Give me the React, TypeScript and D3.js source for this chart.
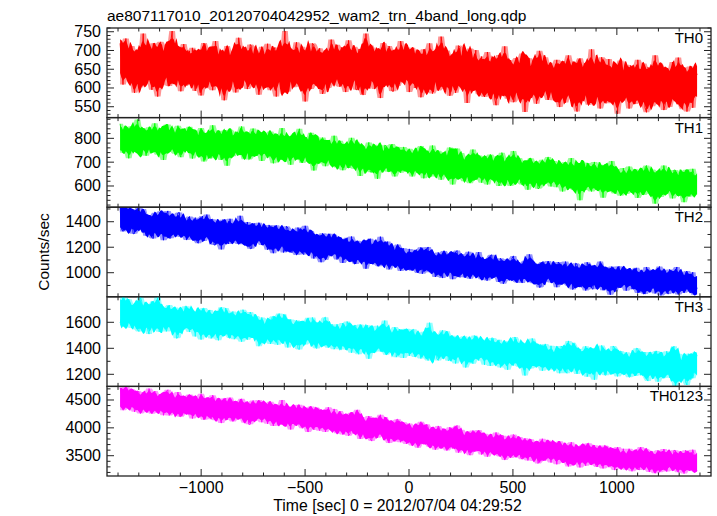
import React from "react";
import * as d3 from "d3";

const TITLE = "ae807117010_20120704042952_wam2_trn_4band_long.qdp";
const X_LABEL = "Time [sec] 0 = 2012/07/04 04:29:52";
const Y_LABEL = "Counts/sec";
const X_DOMAIN: [number, number] = [-1453, 1453];
const X_MAJOR = [-1000, -500, 0, 500, 1000];
const X_TICK_LABELS = ["\u22121000", "\u2212500", "0", "500", "1000"];
const X_MINOR_STEP = 100;
const T_START = -1390;
const T_END = 1386;

const bandNames = ["TH0", "TH1", "TH2", "TH3", "TH0123"];
const bandColors = ["#ff0000", "#00ff00", "#0000ff", "#00ffff", "#ff00ff"];
const yDomains: [number, number][] = [[521, 760], [511, 887], [811, 1514], [1107, 1796], [3136, 4744]];
const yMajorTicks = [[550, 600, 650, 700, 750], [600, 700, 800], [1000, 1200, 1400], [1200, 1400, 1600], [3500, 4000, 4500]];
const yMinorStep = [10, 20, 100, 100, 100];

const th0 = [
  719,671,609,693,732,637,627,707,712,615,587,665,697,601,602,685,745,651,612,705,707,629,595,719,692,643,577,677,723,607,617,691,715,649,605,721,752,621,619,663,704,699,591,635,717,679,607,609,699,637,
  707,618,592,663,692,697,580,644,720,599,617,677,702,708,594,635,725,655,607,613,690,683,567,593,712,669,602,691,698,627,588,649,734,705,612,607,704,666,597,641,716,711,604,621,688,646,582,688,710,610,
  608,680,718,607,594,646,700,708,577,663,704,618,612,694,752,590,590,638,697,674,602,702,722,627,616,604,710,660,564,683,694,635,597,719,715,613,605,669,706,649,584,596,691,697,600,658,729,630,607,688,
  715,644,603,708,700,619,589,633,727,689,617,669,710,596,595,703,703,638,581,613,745,680,609,714,707,649,597,605,695,694,573,658,720,624,611,675,712,700,592,591,701,663,605,630,725,705,615,647,708,683,
  589,659,707,681,600,625,695,695,575,603,703,653,607,589,719,673,585,639,689,693,593,617,737,707,597,631,700,665,579,595,685,679,587,637,713,709,603,609,695,651,560,687,705,623,598,667,701,597,583,625,
  684,592,576,637,696,671,582,618,672,573,554,651,688,682,586,609,711,629,571,587,674,657,562,567,680,643,588,665,692,601,536,623,676,679,574,581,670,640,558,615,699,685,580,595,682,620,568,662,666,584,
  567,643,675,570,549,609,660,671,561,626,687,581,575,657,670,553,537,601,679,637,569,665,665,590,555,567,703,623,571,646,667,598,545,682,661,576,559,632,677,612,565,559,655,660,531,621,673,593,570,651,
  662,596,545,660,654,571,557,585,675,641,563,621,665,548,535,655,649,590,551,565,687,632,559,666,659,601,541,557,652,646,549,610,669,576,567,627,681,652,553,543,653,615,537,582,657,657,547,599,647,635,
];

const th1 = [
  861,819,739,746,836,785,716,847,851,802,751,757,879,833,733,729,839,777,727,813,846,841,747,766,863,743,731,799,831,822,709,774,857,858,743,752,843,808,735,788,853,735,721,836,837,797,749,769,849,827,
  715,764,825,828,729,739,843,753,703,809,817,789,720,716,855,823,727,758,832,733,709,800,819,834,685,769,836,725,725,814,828,778,735,744,850,795,712,820,822,711,717,783,841,750,730,825,827,767,705,803,
  821,779,717,801,829,745,695,815,807,723,710,773,843,709,721,793,805,749,689,803,815,727,717,817,840,741,697,775,802,705,703,789,823,747,665,809,790,709,695,751,803,787,683,723,785,767,699,697,811,725,
  678,696,790,741,666,775,774,722,682,677,802,755,672,786,780,713,642,721,764,679,676,749,783,659,658,735,773,757,630,693,758,715,664,771,768,661,660,720,776,695,640,765,754,675,656,700,764,742,662,664,
  756,730,640,657,750,696,657,758,768,713,632,668,744,744,646,640,770,676,640,712,748,740,626,665,736,642,650,698,762,721,606,673,742,757,630,639,738,695,620,675,722,622,612,723,753,684,626,656,728,714,
  614,661,718,725,606,636,732,650,628,706,724,686,600,613,740,720,612,645,704,620,600,687,747,721,614,656,717,612,606,701,702,665,584,631,716,672,606,697,702,588,592,660,710,627,610,702,722,644,598,680,
  705,659,595,681,689,625,577,695,701,603,599,653,717,589,583,673,683,629,540,683,699,607,583,697,675,621,577,655,701,585,591,669,687,627,551,689,683,589,577,631,705,667,569,603,671,647,559,577,675,605,
  566,586,682,631,572,665,670,612,550,567,664,645,562,676,686,603,568,617,669,575,526,645,662,555,554,631,686,653,570,589,666,611,548,667,666,563,558,622,653,597,532,667,668,577,556,602,672,644,568,566,
];

const th2 = [
  1512,1342,1324,1428,1550,1494,1335,1390,1497,1305,1308,1455,1485,1515,1347,1374,1500,1389,1290,1308,1451,1443,1275,1269,1470,1416,1308,1458,1482,1335,1255,1377,1455,1485,1271,1271,1451,1385,1290,1337,1469,1472,1280,1298,1418,1347,1256,1429,1441,1277,
  1261,1390,1432,1249,1231,1325,1408,1444,1249,1357,1456,1271,1270,1417,1420,1217,1219,1291,1396,1362,1183,1416,1408,1270,1249,1226,1423,1335,1234,1378,1386,1285,1225,1447,1386,1224,1227,1332,1398,1293,1188,1191,1374,1386,1239,1310,1392,1255,1218,1370,
  1357,1252,1180,1375,1345,1202,1153,1229,1372,1338,1205,1300,1351,1159,1186,1365,1351,1207,1165,1159,1330,1288,1138,1354,1306,1229,1157,1142,1368,1315,1168,1246,1327,1180,1111,1245,1282,1294,1138,1082,1309,1224,1099,1159,1288,1305,1129,1190,1297,1261,
  1104,1203,1263,1247,1077,1138,1242,1274,1093,1095,1284,1193,1086,1068,1251,1230,1085,1137,1244,1240,1031,1094,1226,1267,1079,1121,1238,1186,1061,1050,1283,1213,1073,1131,1188,1244,1026,1048,1202,1130,1053,1200,1221,1075,1014,1163,1191,1027,1035,1081,
  1187,1029,1016,1115,1163,1181,998,1077,1199,992,1028,1142,1177,1202,1004,1061,1144,1078,967,997,1159,1132,1003,958,1171,1105,991,1147,1135,1024,949,1066,1162,1174,976,964,1147,1078,964,1030,1119,1165,952,991,1129,1040,979,1122,1162,970,
  948,1086,1107,945,939,1021,1134,1140,964,1053,1113,967,927,1113,1101,913,937,988,1105,1059,943,1113,1132,967,928,923,1081,1032,919,1075,1093,982,955,1144,1097,923,917,1031,1070,992,884,890,1085,1085,929,1009,1091,954,923,1069,
  1060,961,886,1084,1069,911,910,938,1087,1047,898,1009,1048,868,889,1074,1067,935,893,887,1049,1016,860,1082,1040,957,881,870,1061,1043,902,974,1088,908,862,990,1021,1039,874,827,1048,969,850,904,1027,1050,883,935,1036,1006,
  859,967,1030,1011,871,902,1018,1038,841,859,1012,957,853,832,1045,994,855,919,1014,1022,837,876,996,1049,822,903,1017,968,858,832,1026,995,846,913,995,1045,830,849,989,931,842,1001,1013,876,854,964,1004,828,845,882,
];

const th3 = [
  1595,1631,1835,1769,1568,1577,1778,1607,1556,1727,1745,1685,1542,1529,1798,1757,1557,1599,1740,1545,1509,1689,1731,1761,1563,1623,1800,1527,1542,1719,1719,1641,1530,1569,1732,1657,1532,1711,1714,1477,1483,1633,1702,1561,1547,1723,1723,1597,1525,1675,
  1689,1626,1491,1674,1677,1554,1467,1704,1709,1506,1521,1614,1695,1476,1506,1656,1665,1566,1461,1680,1716,1518,1495,1710,1650,1548,1479,1620,1683,1470,1491,1650,1674,1560,1451,1697,1643,1481,1466,1571,1679,1649,1484,1511,1649,1607,1416,1457,1637,1517,
  1445,1469,1628,1565,1433,1637,1646,1523,1463,1427,1667,1595,1451,1661,1622,1505,1406,1529,1622,1439,1439,1589,1616,1397,1391,1559,1598,1607,1430,1469,1634,1517,1442,1637,1594,1408,1399,1534,1588,1480,1417,1630,1639,1438,1405,1492,1582,1582,1393,1414,
  1585,1546,1399,1390,1594,1474,1390,1606,1569,1510,1366,1414,1576,1576,1408,1354,1583,1439,1370,1517,1556,1577,1319,1415,1565,1367,1388,1487,1574,1535,1376,1433,1553,1613,1350,1368,1545,1488,1368,1446,1563,1332,1362,1548,1530,1464,1326,1404,1551,1530,
  1342,1408,1540,1546,1333,1354,1513,1384,1321,1504,1528,1462,1348,1306,1597,1534,1319,1376,1499,1322,1307,1466,1511,1538,1334,1400,1532,1304,1316,1496,1496,1418,1283,1346,1480,1432,1303,1486,1492,1252,1297,1408,1471,1336,1282,1498,1483,1372,1306,1450,
  1468,1402,1273,1450,1459,1330,1264,1480,1477,1282,1291,1390,1465,1252,1282,1432,1439,1343,1235,1457,1454,1295,1268,1487,1466,1325,1259,1397,1433,1247,1190,1427,1445,1337,1245,1476,1440,1260,1254,1350,1425,1428,1227,1290,1434,1386,1248,1236,1419,1296,
  1235,1250,1415,1346,1208,1418,1406,1304,1226,1208,1457,1376,1232,1442,1421,1286,1203,1314,1395,1224,1215,1374,1416,1182,1224,1344,1398,1392,1158,1254,1404,1302,1227,1422,1397,1196,1193,1322,1376,1268,1202,1418,1403,1226,1184,1280,1379,1370,1196,1202,
  1370,1340,1178,1184,1364,1268,1187,1400,1397,1304,1193,1208,1358,1370,1169,1148,1371,1242,1182,1320,1359,1380,1143,1218,1365,1170,1188,1290,1377,1338,1173,1236,1353,1416,1097,1178,1358,1298,1175,1256,1352,1142,1118,1358,1346,1274,1169,1214,1370,1340,
];

const th0123 = [
  4722,4595,4317,4341,4767,4477,4354,4692,4692,4536,4287,4380,4662,4644,4257,4282,4638,4400,4292,4528,4705,4626,4255,4361,4660,4283,4277,4480,4600,4558,4225,4391,4653,4684,4223,4266,4621,4462,4253,4392,4643,4208,4200,4559,4576,4423,4238,4325,4598,4531,
  4167,4323,4572,4548,4197,4234,4610,4284,4144,4479,4542,4412,4212,4156,4587,4529,4137,4266,4528,4178,4085,4414,4490,4531,4145,4305,4543,4149,4115,4462,4483,4336,4152,4217,4521,4357,4093,4444,4468,4063,4063,4318,4491,4199,4130,4464,4498,4258,4100,4386,
  4448,4295,4072,4373,4470,4176,4035,4421,4403,4098,4057,4275,4500,4050,4080,4343,4390,4175,3970,4362,4375,4097,4037,4410,4413,4145,3992,4264,4360,4019,3925,4312,4383,4165,3965,4370,4355,4017,3950,4165,4318,4292,3927,4067,4370,4223,3980,3978,4340,4076,
  3903,3966,4301,4122,3880,4239,4248,4053,3858,3897,4271,4172,3925,4278,4323,4024,3800,4021,4190,3873,3837,4118,4213,3804,3762,4069,4168,4147,3822,3921,4235,3999,3845,4196,4132,3781,3727,3987,4110,3898,3757,4143,4155,3829,3742,3917,4102,4065,3712,3790,
  4080,3968,3682,3714,4043,3850,3645,4065,4110,3909,3705,3753,4065,4017,3660,3655,3990,3760,3607,3888,4035,3986,3637,3721,3968,3643,3592,3840,4013,3918,3630,3751,3998,4044,3555,3613,3968,3809,3592,3739,3930,3555,3510,3906,3953,3770,3577,3672,3960,3878,
  3520,3654,3896,3879,3483,3565,3873,3615,3535,3810,3918,3743,3498,3487,3858,3860,3422,3581,3828,3493,3460,3729,3880,3846,3475,3620,3835,3464,3437,3777,3813,3651,3415,3532,3797,3656,3407,3743,3745,3362,3392,3617,3805,3498,3414,3763,3775,3557,3377,3685,
  3728,3590,3345,3668,3758,3471,3375,3716,3720,3393,3307,3570,3743,3345,3367,3638,3665,3480,3290,3667,3695,3402,3320,3715,3725,3450,3342,3569,3688,3324,3297,3617,3673,3470,3272,3685,3670,3332,3295,3480,3640,3607,3242,3382,3655,3538,3280,3293,3625,3391,
  3250,3313,3625,3469,3220,3586,3603,3400,3265,3244,3655,3519,3242,3625,3610,3371,3207,3421,3575,3273,3185,3518,3598,3204,3237,3469,3620,3547,3215,3321,3568,3399,3230,3596,3593,3234,3202,3440,3563,3351,3180,3596,3570,3282,3225,3370,3608,3518,3210,3243,
];

const seriesValues = [th0, th1, th2, th3, th0123];

const W = 717;
const H = 516;
const LEFT = 107;
const RIGHT = 711;
const TOP = 28;
const BOTTOM = 476;
const FONT = "'Liberation Sans', Arial, Helvetica, sans-serif";
const AXIS_COLOR = "#222";
const MAJOR_LEN = 7;
const MINOR_LEN = 3.5;

function minorTicks(d0: number, d1: number, step: number, majors: number[]) {
  return d3.range(Math.ceil(d0 / step) * step, d1 + 1e-9, step).filter(
    (v) => !majors.some((m) => Math.abs(m - v) < 1e-6)
  );
}

function win(arr: number[], j: number, h: number) {
  return arr.slice(Math.max(0, j - h), Math.min(arr.length, j + h + 1));
}

export default function App() {
  const x = d3.scaleLinear().domain(X_DOMAIN).range([LEFT, RIGHT]);
  const ph = (BOTTOM - TOP) / seriesValues.length;
  const xMinor = minorTicks(X_DOMAIN[0], X_DOMAIN[1], X_MINOR_STEP, X_MAJOR);

  return (
    <svg width={W} height={H} style={{ position: "absolute", left: 0, top: 0, background: "#fff" }} fontFamily={FONT}>
      <rect x={0} y={0} width={W} height={H} fill="#fff" />
      <defs>
        {seriesValues.map((_, i) => (
          <clipPath id={`clip${i}`} key={i}>
            <rect x={LEFT} y={TOP + i * ph} width={RIGHT - LEFT} height={ph} />
          </clipPath>
        ))}
      </defs>
      {seriesValues.map((vals, i) => {
        const top = TOP + i * ph;
        const bottom = top + ph;
        const y = d3.scaleLinear().domain(yDomains[i]).range([bottom, top]);
        const n = vals.length;
        const tScale = d3.scaleLinear().domain([0, n - 1]).range([T_START, T_END]);
        const idx = d3.range(n);
        const line = d3
          .line<number>()
          .x((_, j) => x(tScale(j)))
          .y((v) => y(v));
        const outer = d3
          .area<number>()
          .x((j) => x(tScale(j)))
          .y0((j) => y(d3.min(win(vals, j, 2)) as number))
          .y1((j) => y(d3.max(win(vals, j, 2)) as number));
        const coreBound = (j: number, s: number) => {
          const w = win(vals, j, 3);
          const c = d3.mean(win(vals, j, 4)) as number;
          return y(c + s * 0.82 * (((d3.max(w) as number) - (d3.min(w) as number)) / 2));
        };
        const core = d3
          .area<number>()
          .x((j) => x(tScale(j)))
          .y0((j) => coreBound(j, -1))
          .y1((j) => coreBound(j, 1));
        const yMin = minorTicks(yDomains[i][0], yDomains[i][1], yMinorStep[i], yMajorTicks[i]);
        return (
          <g key={i}>
            <g clipPath={`url(#clip${i})`}>
              <path d={outer(idx) || ""} fill={bandColors[i]} fillOpacity={0.42} stroke="none" />
              <path d={core(idx) || ""} fill={bandColors[i]} stroke="none" />
              <path d={line(vals) || ""} fill="none" stroke={bandColors[i]} strokeWidth={0.9} />
            </g>
            {X_MAJOR.map((t) => (
              <g key={`xm${t}`} stroke={AXIS_COLOR} strokeWidth={1}>
                <line x1={x(t)} x2={x(t)} y1={top} y2={top + MAJOR_LEN} />
                <line x1={x(t)} x2={x(t)} y1={bottom} y2={bottom - MAJOR_LEN} />
              </g>
            ))}
            {xMinor.map((t) => (
              <g key={`xn${t}`} stroke={AXIS_COLOR} strokeWidth={1}>
                <line x1={x(t)} x2={x(t)} y1={top} y2={top + MINOR_LEN} />
                <line x1={x(t)} x2={x(t)} y1={bottom} y2={bottom - MINOR_LEN} />
              </g>
            ))}
            {yMajorTicks[i].map((v) => (
              <g key={`ym${v}`}>
                <line x1={LEFT} x2={LEFT + MAJOR_LEN} y1={y(v)} y2={y(v)} stroke={AXIS_COLOR} />
                <line x1={RIGHT} x2={RIGHT - MAJOR_LEN} y1={y(v)} y2={y(v)} stroke={AXIS_COLOR} />
                <text x={LEFT - 6} y={y(v) + 5.5} textAnchor="end" fontSize={16} fill="#000">
                  {v}
                </text>
              </g>
            ))}
            {yMin.map((v) => (
              <g key={`yn${v}`} stroke={AXIS_COLOR}>
                <line x1={LEFT} x2={LEFT + MINOR_LEN} y1={y(v)} y2={y(v)} />
                <line x1={RIGHT} x2={RIGHT - MINOR_LEN} y1={y(v)} y2={y(v)} />
              </g>
            ))}
            <text x={RIGHT - 8} y={top + 15} textAnchor="end" fontSize={15} fill="#000">
              {bandNames[i]}
            </text>
            <rect x={LEFT} y={top} width={RIGHT - LEFT} height={ph} fill="none" stroke={AXIS_COLOR} strokeWidth={1.3} />
          </g>
        );
      })}
      {X_MAJOR.map((t, k) => (
        <text key={`xl${t}`} x={x(t)} y={493} textAnchor="middle" fontSize={16} fill="#000">
          {X_TICK_LABELS[k]}
        </text>
      ))}
      <text x={LEFT} y={21} fontSize={15.5} fill="#000">
        {TITLE}
      </text>
      <text x={397.5} y={511} textAnchor="middle" fontSize={15.8} fill="#000">
        {X_LABEL}
      </text>
      <text transform={`translate(49, ${(TOP + BOTTOM) / 2}) rotate(-90)`} textAnchor="middle" fontSize={15.5} fill="#000">
        {Y_LABEL}
      </text>
    </svg>
  );
}
